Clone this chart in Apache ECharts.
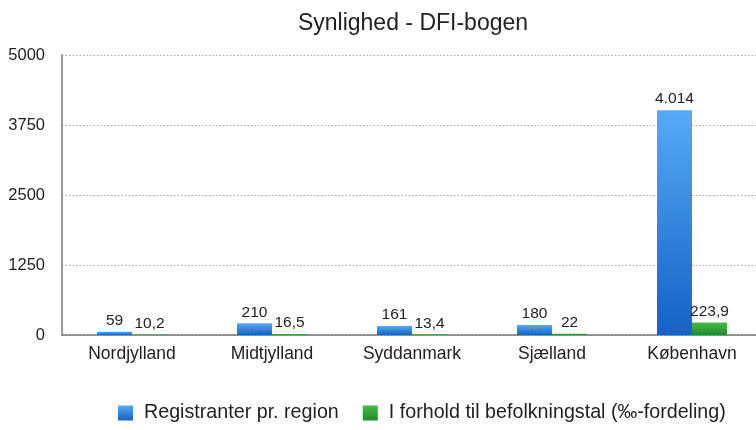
<!DOCTYPE html>
<html>
<head>
<meta charset="utf-8">
<script src="https://cdn.jsdelivr.net/npm/echarts@6/dist/echarts.min.js"></script>
<style>html,body{margin:0;padding:0;background:#fff;overflow:hidden;width:756px;height:430px}#c{width:762px;height:430px}</style>
</head>
<body>
<div id="c"></div>
<script>
const categories = ['Nordjylland', 'Midtjylland', 'Syddanmark', 'Sjælland', 'København'];
const registranter = [59, 210, 161, 180, 4014];
const forhold = [10.2, 16.5, 13.4, 22, 223.9];
const yTicks = [0, 1250, 2500, 3750, 5000];
const seriesNames = ['Registranter pr. region', 'I forhold til befolkningstal (‰-fordeling)'];

function fmtDa(v) {
  const parts = String(v).split('.');
  const intPart = parts[0].replace(/\B(?=(\d{3})+(?!\d))/g, '.');
  return parts.length > 1 ? intPart + ',' + parts[1] : intPart;
}

const FONT = '"Liberation Sans", Arial, sans-serif';
const chart = echarts.init(document.getElementById('c'), null, {renderer: 'canvas'});
chart.setOption({
  animation: false,
  textStyle: {fontFamily: FONT},
  title: {
    text: 'Synlighed - DFI-bogen',
    left: 408, top: 7, textAlign: 'center',
    textStyle: {fontFamily: FONT, fontSize: 23, fontWeight: 'normal', color: '#222'}
  },
  grid: {left: 62, right: 0, top: 55, bottom: 95, containLabel: false},
  legend: {
    left: 118, top: 403, padding: 0,
    itemWidth: 15, itemHeight: 15, itemGap: 24,
    icon: 'rect',
    data: seriesNames,
    textStyle: {fontFamily: FONT, fontSize: 19.7, color: '#222', padding: [0, 0, 0, 6]}
  },
  xAxis: {
    type: 'category',
    data: categories,
    axisLine: {lineStyle: {color: '#777', width: 1.5}},
    axisTick: {show: false},
    axisLabel: {fontFamily: FONT, fontSize: 17.5, color: '#222', margin: 10}
  },
  yAxis: {
    type: 'value',
    min: yTicks[0], max: yTicks[yTicks.length - 1], interval: 1250,
    axisLine: {show: true, lineStyle: {color: '#777', width: 1.5}},
    axisTick: {show: false},
    axisLabel: {fontFamily: FONT, fontSize: 16.5, color: '#222', margin: 17,
      formatter: v => String(v)},
    splitLine: {lineStyle: {color: '#aaa', type: [1.5, 2], width: 1}}
  },
  series: [
    {
      name: seriesNames[0], type: 'bar', data: registranter,
      barWidth: 35, barGap: '0%',
      itemStyle: {color: new echarts.graphic.LinearGradient(0, 0, 0, 1, [
        {offset: 0, color: '#56aaf7'}, {offset: 1, color: '#1562c6'}])},
      label: {show: true, position: 'top', distance: 3, formatter: p => fmtDa(p.value),
        fontFamily: FONT, fontSize: 15.5, color: '#222'}
    },
    {
      name: seriesNames[1], type: 'bar', data: forhold,
      barWidth: 35, barGap: '0%',
      itemStyle: {color: new echarts.graphic.LinearGradient(0, 0, 0, 1, [
        {offset: 0, color: '#46bd46'}, {offset: 1, color: '#1d8a2b'}])},
      label: {show: true, position: 'top', distance: 3, formatter: p => fmtDa(p.value),
        fontFamily: FONT, fontSize: 15.5, color: '#222'}
    }
  ]
});
</script>
</body>
</html>
